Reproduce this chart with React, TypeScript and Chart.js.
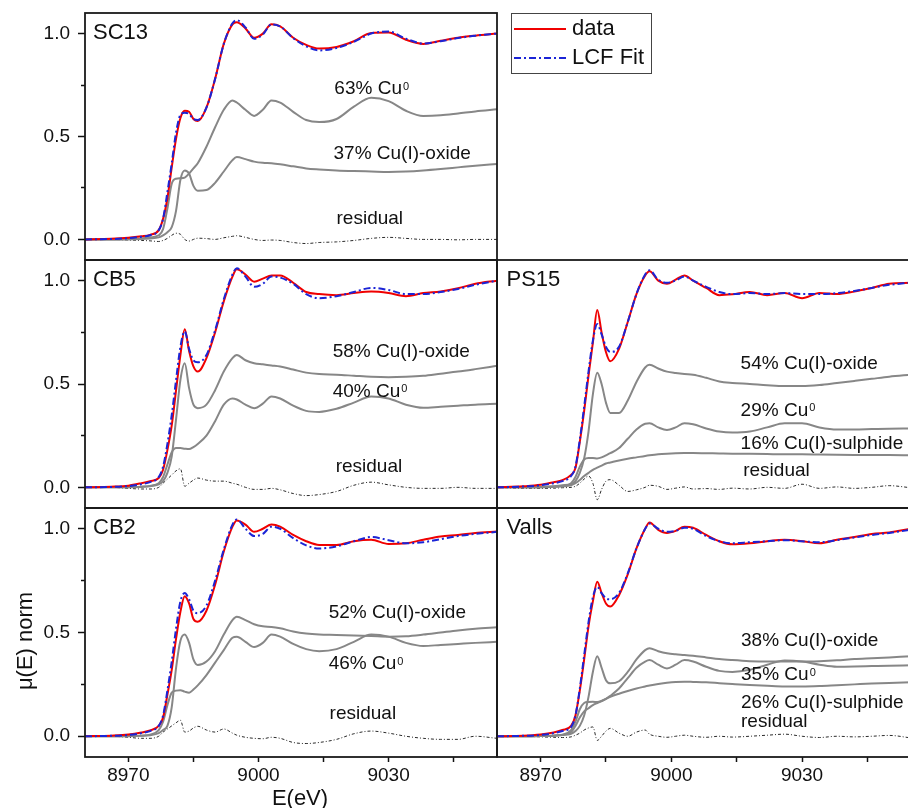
import React, { useEffect, useRef } from 'react';
import { Chart, registerables } from 'chart.js';

Chart.register(...registerables);

const FONT = "'Liberation Sans', Arial, Helvetica, sans-serif";
Chart.defaults.font.family = FONT;

// ---------- shared energy grid (eV) ----------
const ENERGY = [8960, 8966, 8970, 8973, 8975, 8977, 8978, 8979, 8980, 8981, 8982, 8983, 8984, 8985, 8986, 8988, 8990, 8992, 8994, 8995, 8997, 8999, 9001, 9003, 9005, 9008, 9011, 9014, 9018, 9022, 9026, 9030, 9034, 9038, 9042, 9046, 9050, 9055];

// ---------- SC13 ----------
const SC13_DATA = [0, 0.003, 0.008, 0.015, 0.022, 0.045, 0.1, 0.2, 0.35, 0.49, 0.59, 0.625, 0.62, 0.585, 0.575, 0.64, 0.78, 0.95, 1.045, 1.055, 1.025, 0.98, 1.0, 1.045, 1.035, 0.98, 0.945, 0.927, 0.935, 0.963, 1.003, 1.005, 0.97, 0.95, 0.965, 0.98, 0.99, 1.0];
const SC13_FIT = [0, 0.002, 0.006, 0.013, 0.02, 0.045, 0.1, 0.23, 0.37, 0.52, 0.605, 0.615, 0.61, 0.585, 0.58, 0.64, 0.78, 0.95, 1.05, 1.065, 1.03, 0.975, 0.995, 1.045, 1.035, 0.978, 0.938, 0.918, 0.93, 0.96, 1.0, 1.01, 0.975, 0.952, 0.963, 0.978, 0.99, 1.0];
const SC13_CU0 = [0, 0, 0.002, 0.005, 0.01, 0.02, 0.05, 0.15, 0.27, 0.295, 0.297, 0.3, 0.32, 0.345, 0.37, 0.45, 0.545, 0.63, 0.675, 0.665, 0.63, 0.6, 0.63, 0.675, 0.665, 0.62, 0.58, 0.57, 0.585, 0.645, 0.688, 0.672, 0.625, 0.6, 0.603, 0.612, 0.622, 0.632];
const SC13_CU2O = [0, 0, 0, 0.002, 0.005, 0.01, 0.02, 0.035, 0.06, 0.14, 0.29, 0.335, 0.32, 0.26, 0.237, 0.24, 0.275, 0.33, 0.385, 0.4, 0.39, 0.378, 0.372, 0.37, 0.365, 0.355, 0.345, 0.34, 0.335, 0.332, 0.33, 0.328, 0.33, 0.335, 0.342, 0.35, 0.358, 0.366];
const SC13_RES = [0, 0, -0.003, -0.005, -0.007, -0.01, -0.005, 0.005, 0.02, 0.03, 0.025, 0.0, -0.008, 0.0, 0.006, 0.004, 0.0, 0.008, 0.015, 0.018, 0.01, 0.0, -0.005, -0.003, -0.005, -0.015, -0.02, -0.015, -0.012, -0.005, 0.005, 0.01, 0.005, 0.0, 0.0, -0.002, 0.0, 0.0];

// ---------- CB5 ----------
const CB5_DATA = [0, 0.003, 0.008, 0.02, 0.03, 0.045, 0.085, 0.18, 0.3, 0.47, 0.64, 0.765, 0.66, 0.585, 0.56, 0.625, 0.75, 0.9, 1.02, 1.055, 1.03, 0.995, 1.01, 1.025, 1.025, 0.99, 0.945, 0.935, 0.93, 0.94, 0.947, 0.94, 0.925, 0.94, 0.948, 0.963, 0.985, 1.0];
const CB5_FIT = [0, 0.002, 0.006, 0.015, 0.025, 0.05, 0.1, 0.21, 0.35, 0.52, 0.68, 0.755, 0.67, 0.615, 0.605, 0.64, 0.76, 0.91, 1.03, 1.06, 1.02, 0.97, 0.985, 1.02, 1.015, 0.985, 0.935, 0.915, 0.925, 0.945, 0.965, 0.955, 0.935, 0.935, 0.945, 0.96, 0.98, 1.0];
const CB5_CU2O = [0, 0, 0, 0.002, 0.005, 0.015, 0.03, 0.07, 0.15, 0.33, 0.52, 0.6, 0.48, 0.4, 0.383, 0.4, 0.47, 0.56, 0.625, 0.64, 0.615, 0.6, 0.595, 0.59, 0.585, 0.57, 0.555, 0.548, 0.545, 0.54, 0.535, 0.533, 0.535, 0.54, 0.55, 0.56, 0.572, 0.588];
const CB5_CU0 = [0, 0, 0.001, 0.003, 0.007, 0.02, 0.05, 0.11, 0.17, 0.19, 0.19, 0.187, 0.185, 0.195, 0.21, 0.25, 0.32, 0.4, 0.43, 0.425, 0.4, 0.383, 0.405, 0.44, 0.43, 0.395, 0.37, 0.365, 0.38, 0.41, 0.44, 0.43, 0.4, 0.385, 0.39, 0.395, 0.4, 0.404];
const CB5_RES = [0, 0, -0.005, -0.008, -0.008, 0.0, 0.02, 0.04, 0.06, 0.08, 0.09, 0.005, 0.02, 0.035, 0.045, 0.035, 0.03, 0.03, 0.02, 0.015, 0.0, -0.01, -0.01, -0.005, -0.012, -0.03, -0.04, -0.035, -0.02, 0.01, 0.025, 0.012, 0.0, -0.005, -0.005, 0.0, -0.005, -0.005];

// ---------- CB2 ----------
const CB2_DATA = [0, 0.003, 0.008, 0.018, 0.028, 0.05, 0.09, 0.2, 0.32, 0.47, 0.6, 0.675, 0.64, 0.565, 0.552, 0.605, 0.73, 0.89, 1.01, 1.04, 1.02, 0.985, 1.0, 1.02, 1.01, 0.97, 0.94, 0.922, 0.922, 0.94, 0.947, 0.927, 0.93, 0.947, 0.963, 0.97, 0.98, 0.987];
const CB2_FIT = [0, 0.002, 0.006, 0.015, 0.025, 0.05, 0.1, 0.22, 0.36, 0.52, 0.65, 0.69, 0.66, 0.605, 0.593, 0.63, 0.75, 0.9, 1.02, 1.045, 1.0, 0.965, 0.975, 1.01, 1.0, 0.955, 0.92, 0.905, 0.915, 0.94, 0.96, 0.945, 0.93, 0.935, 0.95, 0.965, 0.975, 0.985];
const CB2_CU2O = [0, 0, 0, 0.002, 0.005, 0.015, 0.03, 0.05, 0.14, 0.33, 0.46, 0.49, 0.45, 0.37, 0.343, 0.36, 0.41, 0.49, 0.56, 0.576, 0.56, 0.54, 0.53, 0.527, 0.52, 0.505, 0.495, 0.49, 0.488, 0.485, 0.483, 0.48, 0.482, 0.49, 0.5, 0.51, 0.518, 0.525];
const CB2_CU0 = [0, 0, 0.001, 0.003, 0.008, 0.03, 0.07, 0.15, 0.21, 0.22, 0.222, 0.215, 0.21, 0.225, 0.245, 0.295, 0.355, 0.415, 0.475, 0.48, 0.455, 0.43, 0.45, 0.49, 0.48, 0.445, 0.42, 0.41, 0.42, 0.455, 0.49, 0.48, 0.45, 0.435, 0.44, 0.445, 0.45, 0.455];
const CB2_RES = [0, 0, -0.005, -0.01, -0.01, 0.0, 0.02, 0.035, 0.05, 0.065, 0.077, 0.02, 0.025, 0.04, 0.048, 0.03, 0.02, 0.035, 0.015, 0.005, -0.005, -0.01, -0.012, -0.005, -0.01, -0.03, -0.035, -0.03, -0.015, 0.012, 0.025, 0.015, 0.0, -0.01, -0.015, -0.015, 0.0, -0.01];

// ---------- PS15 ----------
const PS15_DATA = [0, 0.005, 0.012, 0.025, 0.035, 0.06, 0.093, 0.22, 0.37, 0.54, 0.7, 0.858, 0.75, 0.655, 0.61, 0.67, 0.8, 0.935, 1.025, 1.045, 1.0, 0.985, 1.005, 1.025, 1.0, 0.965, 0.93, 0.934, 0.945, 0.93, 0.94, 0.915, 0.94, 0.935, 0.947, 0.965, 0.985, 0.99];
const PS15_FIT = [0, 0.004, 0.01, 0.02, 0.03, 0.055, 0.1, 0.23, 0.39, 0.56, 0.71, 0.79, 0.74, 0.68, 0.655, 0.68, 0.8, 0.935, 1.03, 1.05, 1.005, 0.99, 1.0, 1.02, 1.0, 0.97, 0.945, 0.935, 0.94, 0.935, 0.94, 0.935, 0.935, 0.94, 0.95, 0.965, 0.98, 0.99];
const PS15_CU2O = [0, 0, 0.002, 0.005, 0.01, 0.015, 0.03, 0.07, 0.14, 0.27, 0.45, 0.555, 0.5, 0.41, 0.36, 0.36, 0.42, 0.51, 0.58, 0.593, 0.575, 0.56, 0.553, 0.548, 0.545, 0.53, 0.512, 0.505, 0.5, 0.494, 0.49, 0.49, 0.495, 0.505, 0.515, 0.525, 0.535, 0.545];
const PS15_CU0 = [0, 0, 0.001, 0.003, 0.006, 0.02, 0.05, 0.1, 0.135, 0.142, 0.142, 0.14, 0.145, 0.155, 0.165, 0.19, 0.235, 0.28, 0.308, 0.31, 0.29, 0.278, 0.29, 0.31, 0.305, 0.285, 0.27, 0.265, 0.27, 0.29, 0.31, 0.31, 0.29, 0.28, 0.28, 0.282, 0.284, 0.285];
const PS15_CU2S = [0, 0, 0.001, 0.003, 0.005, 0.01, 0.02, 0.035, 0.055, 0.07, 0.085, 0.095, 0.105, 0.115, 0.12, 0.13, 0.138, 0.145, 0.152, 0.155, 0.16, 0.163, 0.165, 0.166, 0.166, 0.165, 0.164, 0.163, 0.162, 0.161, 0.16, 0.16, 0.159, 0.158, 0.157, 0.156, 0.156, 0.155];
const PS15_RES = [0, -0.005, -0.005, -0.004, -0.002, 0.0, 0.005, 0.02, 0.04, 0.055, 0.02, -0.06, -0.01, 0.03, 0.037, 0.01, -0.02, -0.012, 0.0, 0.01, 0.005, -0.01, -0.004, 0.002, -0.008, -0.006, -0.01, -0.004, -0.008, 0.0, -0.005, 0.015, -0.005, 0.002, -0.005, 0.0, 0.008, -0.002];

// ---------- Valls ----------
const VALLS_DATA = [0, 0.002, 0.008, 0.018, 0.03, 0.05, 0.1, 0.22, 0.37, 0.53, 0.65, 0.745, 0.69, 0.64, 0.625, 0.68, 0.78, 0.905, 1.0, 1.03, 0.995, 0.98, 0.99, 1.01, 1.005, 0.97, 0.94, 0.925, 0.93, 0.94, 0.947, 0.94, 0.93, 0.947, 0.96, 0.975, 0.982, 1.0];
const VALLS_FIT = [0, 0.002, 0.006, 0.015, 0.025, 0.045, 0.1, 0.23, 0.39, 0.55, 0.67, 0.72, 0.69, 0.665, 0.66, 0.69, 0.785, 0.905, 1.0, 1.025, 1.0, 0.985, 0.99, 1.005, 1.0, 0.965, 0.94, 0.93, 0.935, 0.94, 0.945, 0.94, 0.935, 0.945, 0.958, 0.97, 0.98, 0.995];
const VALLS_CU2O = [0, 0, 0.001, 0.003, 0.006, 0.012, 0.025, 0.05, 0.1, 0.19, 0.31, 0.385, 0.33, 0.27, 0.255, 0.265, 0.31, 0.37, 0.415, 0.424, 0.41, 0.4, 0.395, 0.392, 0.388, 0.38, 0.372, 0.367, 0.362, 0.36, 0.36, 0.36, 0.362, 0.366, 0.372, 0.376, 0.38, 0.385];
const VALLS_CU0 = [0, 0, 0.001, 0.003, 0.008, 0.03, 0.07, 0.13, 0.16, 0.165, 0.166, 0.165, 0.17, 0.18, 0.195, 0.23, 0.28, 0.33, 0.36, 0.367, 0.345, 0.327, 0.345, 0.367, 0.36, 0.335, 0.315, 0.31, 0.32, 0.345, 0.365, 0.36, 0.345, 0.335, 0.336, 0.338, 0.34, 0.342];
const VALLS_CU2S = [0, 0, 0.001, 0.003, 0.006, 0.02, 0.05, 0.09, 0.12, 0.135, 0.15, 0.16, 0.17, 0.18, 0.19, 0.205, 0.218, 0.23, 0.24, 0.245, 0.252, 0.258, 0.262, 0.263, 0.262, 0.26, 0.256, 0.252, 0.247, 0.243, 0.24, 0.24, 0.242, 0.246, 0.25, 0.254, 0.257, 0.26];
const VALLS_RES = [0, 0, -0.003, -0.005, -0.006, -0.003, 0.005, 0.015, 0.03, 0.04, 0.045, -0.02, 0.0, 0.025, 0.038, 0.015, 0.0, 0.02, 0.03, 0.01, 0.0, -0.005, 0.0, 0.005, 0.0, -0.005, 0.0, -0.004, 0.0, 0.005, 0.01, 0.0, -0.006, 0.0, -0.003, 0.0, 0.004, -0.008];

// ---------- ticks ----------
const X_TICKS = [8970, 8985, 9000, 9015, 9030, 9045];
const X_LABELED = [8970, 9000, 9030];
const Y_MAJOR = [0, 0.5, 1.0];
const Y_MINOR = [0.25, 0.75];

// ---------- annotation texts (anchored in data coordinates) ----------
type Label = { text: string; sup?: string; x: number; y: number };
const SC13_LABELS: Label[] = [
  { text: '63% Cu', sup: '0', x: 9017.5, y: 0.733 },
  { text: '37% Cu(I)-oxide', x: 9017.3, y: 0.417 },
  { text: 'residual', x: 9018, y: 0.1 },
];
const CB5_LABELS: Label[] = [
  { text: '58% Cu(I)-oxide', x: 9017.1, y: 0.657 },
  { text: '40% Cu', sup: '0', x: 9017.1, y: 0.464 },
  { text: 'residual', x: 9017.8, y: 0.1 },
];
const CB2_LABELS: Label[] = [
  { text: '52% Cu(I)-oxide', x: 9016.2, y: 0.595 },
  { text: '46% Cu', sup: '0', x: 9016.2, y: 0.347 },
  { text: 'residual', x: 9016.4, y: 0.108 },
];
const PS15_LABELS: Label[] = [
  { text: '54% Cu(I)-oxide', x: 9015.9, y: 0.597 },
  { text: '29% Cu', sup: '0', x: 9015.9, y: 0.372 },
  { text: '16% Cu(I)-sulphide', x: 9015.9, y: 0.209 },
  { text: 'residual', x: 9016.5, y: 0.082 },
];
const VALLS_LABELS: Label[] = [
  { text: '38% Cu(I)-oxide', x: 9016.0, y: 0.46 },
  { text: '35% Cu', sup: '0', x: 9016.0, y: 0.294 },
  { text: '26% Cu(I)-sulphide', x: 9016.0, y: 0.16 },
  { text: 'residual', x: 9016.0, y: 0.068 },
];

type Panel = {
  name: string; col: number; row: number;
  data: number[]; fit: number[]; comps: number[][]; residual: number[]; labels: Label[];
};

const PANELS: Panel[] = [
  { name: 'SC13', col: 0, row: 0, data: SC13_DATA, fit: SC13_FIT, comps: [SC13_CU0, SC13_CU2O], residual: SC13_RES, labels: SC13_LABELS },
  { name: 'CB5', col: 0, row: 1, data: CB5_DATA, fit: CB5_FIT, comps: [CB5_CU2O, CB5_CU0], residual: CB5_RES, labels: CB5_LABELS },
  { name: 'CB2', col: 0, row: 2, data: CB2_DATA, fit: CB2_FIT, comps: [CB2_CU2O, CB2_CU0], residual: CB2_RES, labels: CB2_LABELS },
  { name: 'PS15', col: 1, row: 1, data: PS15_DATA, fit: PS15_FIT, comps: [PS15_CU2O, PS15_CU0, PS15_CU2S], residual: PS15_RES, labels: PS15_LABELS },
  { name: 'Valls', col: 1, row: 2, data: VALLS_DATA, fit: VALLS_FIT, comps: [VALLS_CU2O, VALLS_CU0, VALLS_CU2S], residual: VALLS_RES, labels: VALLS_LABELS },
];

// ---------- layout / style ----------
const PAGE_W = 908;
const PAGE_H = 808;
const CANVAS_W = 916;
const COLS = [[85, 497], [497, 911]];
const ROWS = [[13, 260], [260, 508], [508, 757]];
const RED = '#f00000';
const BLUE = '#1b24d6';
const GRAY = '#878787';
const RES_COLOR = '#2a2a2a';
const INK = '#111111';

function makePanel(canvas: HTMLCanvasElement, p: Panel): Chart {
  const [left, right] = COLS[p.col];
  const [top, bottom] = ROWS[p.row];
  const showY = p.col === 0;
  const showX = p.row === 2;
  const xAxisH = PAGE_H - ROWS[2][1];
  const pts = (arr: number[]) => ENERGY.map((e, i) => ({ x: e, y: arr[i] }));
  const line = (label: string, arr: number[], color: string, width: number, dash: number[]) => ({
    label, data: pts(arr), borderColor: color, backgroundColor: color, borderWidth: width,
    borderDash: dash, pointRadius: 0, fill: false, cubicInterpolationMode: 'monotone',
    xAxisID: 'x', yAxisID: 'y',
  });
  const datasets: any[] = [
    line('LCF Fit', p.fit, BLUE, 2, [7, 3, 2, 3]),
    line('data', p.data, RED, 2, []),
    ...p.comps.map((c, i) => line('component ' + (i + 1), c, GRAY, 2, [])),
    line('residual', p.residual, RES_COLOR, 1, [3, 2, 1, 2]),
  ];
  const tickFont = { family: FONT, size: 19 };

  const decor = {
    id: 'decor' + p.name,
    afterDatasetsDraw(chart: any) {
      const { ctx, chartArea: a, scales } = chart;
      ctx.save();
      ctx.strokeStyle = '#1a1a1a';
      ctx.lineWidth = 1.8;
      ctx.setLineDash([]);
      ctx.strokeRect(a.left, a.top, a.right - a.left, a.bottom - a.top);
      ctx.fillStyle = INK;
      ctx.textAlign = 'left';
      ctx.textBaseline = 'middle';
      ctx.font = `22px ${FONT}`;
      ctx.fillText(p.name, a.left + (p.col === 0 ? 8 : 9.5), a.top + 19.5);
      for (const l of p.labels) {
        const x = scales.x.getPixelForValue(l.x);
        const y = scales.y.getPixelForValue(l.y);
        ctx.font = `19px ${FONT}`;
        ctx.textBaseline = 'middle';
        ctx.fillText(l.text, x, y);
        if (l.sup) {
          const w = ctx.measureText(l.text).width;
          ctx.font = `11px ${FONT}`;
          ctx.textBaseline = 'alphabetic';
          ctx.fillText(l.sup, x + w + 1, y + 1);
        }
      }
      if (p.col === 0 && p.row === 2) {
        ctx.font = `22px ${FONT}`;
        ctx.textAlign = 'center';
        ctx.textBaseline = 'middle';
        ctx.fillText('E(eV)', 300, 799);
        ctx.save();
        ctx.translate(26, 641);
        ctx.rotate(-Math.PI / 2);
        ctx.fillText('\u03bc(E) norm', 0, 0);
        ctx.restore();
      }
      ctx.restore();
    },
  };

  return new Chart(canvas, {
    type: 'line',
    data: { datasets },
    options: {
      responsive: false,
      animation: false,
      devicePixelRatio: 1,
      events: [],
      layout: {
        padding: {
          left: showY ? 0 : left,
          right: CANVAS_W - right,
          top,
          bottom: showX ? 0 : PAGE_H - bottom,
        },
      },
      plugins: { legend: { display: false }, tooltip: { enabled: false } },
      scales: {
        x: {
          type: 'linear', axis: 'x', position: 'bottom', min: 8960, max: 9055, display: showX,
          afterBuildTicks: (s: any) => { s.ticks = X_TICKS.map((v) => ({ value: v })); },
          afterFit: (s: any) => {
            if (showX) { s.height = xAxisH; }
            s.paddingLeft = 0; s.paddingRight = 0;
          },
          ticks: {
            autoSkip: false, maxRotation: 0, minRotation: 0, padding: 2, color: INK, font: tickFont,
            callback: (v: any) => (X_LABELED.includes(Number(v)) ? String(v) : ''),
          },
          grid: { drawOnChartArea: false, drawTicks: true, tickLength: 5, tickColor: INK, tickWidth: 1.5 },
          border: { display: false },
        },
        y: {
          type: 'linear', axis: 'y', position: 'left', weight: 1, min: -0.1, max: 1.1, display: showY,
          afterBuildTicks: (s: any) => { s.ticks = Y_MAJOR.map((v) => ({ value: v })); },
          afterFit: (s: any) => {
            if (showY) { s.width = COLS[0][0]; }
            s.paddingTop = 0; s.paddingBottom = 0;
          },
          ticks: { padding: 8, color: INK, font: tickFont, callback: (v: any) => Number(v).toFixed(1) },
          grid: { drawOnChartArea: false, drawTicks: true, tickLength: 7, tickColor: INK, tickWidth: 1.5 },
          border: { display: false },
        },
        yMinor: {
          type: 'linear', axis: 'y', position: 'left', weight: 0, min: -0.1, max: 1.1, display: showY,
          afterBuildTicks: (s: any) => { s.ticks = Y_MINOR.map((v) => ({ value: v })); },
          afterFit: (s: any) => { s.width = 0; s.paddingTop = 0; s.paddingBottom = 0; },
          ticks: { display: false },
          grid: { drawOnChartArea: false, drawTicks: true, tickLength: 4, tickColor: INK, tickWidth: 1.5 },
          border: { display: false },
        },
      },
    } as any,
    plugins: [decor],
  } as any);
}

function makeLegend(canvas: HTMLCanvasElement): Chart {
  const legendDraw = {
    id: 'legendBox',
    afterDraw(chart: any) {
      const ctx = chart.ctx;
      ctx.save();
      ctx.strokeStyle = '#444';
      ctx.lineWidth = 1;
      ctx.setLineDash([]);
      ctx.strokeRect(511.5, 13.5, 140, 60);
      chart.data.datasets.forEach((ds: any, i: number) => {
        const y = 29 + i * 29;
        ctx.strokeStyle = ds.borderColor;
        ctx.lineWidth = ds.borderWidth;
        ctx.setLineDash(ds.borderDash || []);
        ctx.beginPath();
        ctx.moveTo(514, y);
        ctx.lineTo(566, y);
        ctx.stroke();
        ctx.setLineDash([]);
        ctx.fillStyle = INK;
        ctx.font = `22px ${FONT}`;
        ctx.textAlign = 'left';
        ctx.textBaseline = 'middle';
        ctx.fillText(ds.label, 572, y);
      });
      ctx.restore();
    },
  };
  return new Chart(canvas, {
    type: 'line',
    data: {
      datasets: [
        { label: 'data', data: [], borderColor: RED, borderWidth: 2, borderDash: [] },
        { label: 'LCF Fit', data: [], borderColor: BLUE, borderWidth: 2, borderDash: [7, 3, 2, 3] },
      ],
    },
    options: {
      responsive: false,
      animation: false,
      devicePixelRatio: 1,
      events: [],
      plugins: { legend: { display: false }, tooltip: { enabled: false } },
      scales: {
        x: { type: 'linear', display: false, min: 8960, max: 9055 },
        y: { type: 'linear', display: false, min: -0.1, max: 1.1 },
      },
    } as any,
    plugins: [legendDraw],
  } as any);
}

export default function App() {
  const refs = useRef<(HTMLCanvasElement | null)[]>([]);
  useEffect(() => {
    const charts: Chart[] = [];
    PANELS.forEach((p, i) => {
      const c = refs.current[i];
      if (c) charts.push(makePanel(c, p));
    });
    const lc = refs.current[PANELS.length];
    if (lc) charts.push(makeLegend(lc));
    return () => charts.forEach((c) => c.destroy());
  }, []);
  const slots = [...PANELS.map((p) => p.name), 'legend'];
  return (
    <div style={{ position: 'absolute', left: 0, top: 0, width: PAGE_W, height: PAGE_H, overflow: 'hidden', background: '#ffffff' }}>
      {slots.map((k, i) => (
        <canvas
          key={k}
          ref={(el) => { refs.current[i] = el; }}
          width={CANVAS_W}
          height={PAGE_H}
          style={{ position: 'absolute', left: 0, top: 0, width: CANVAS_W, height: PAGE_H }}
        />
      ))}
    </div>
  );
}
